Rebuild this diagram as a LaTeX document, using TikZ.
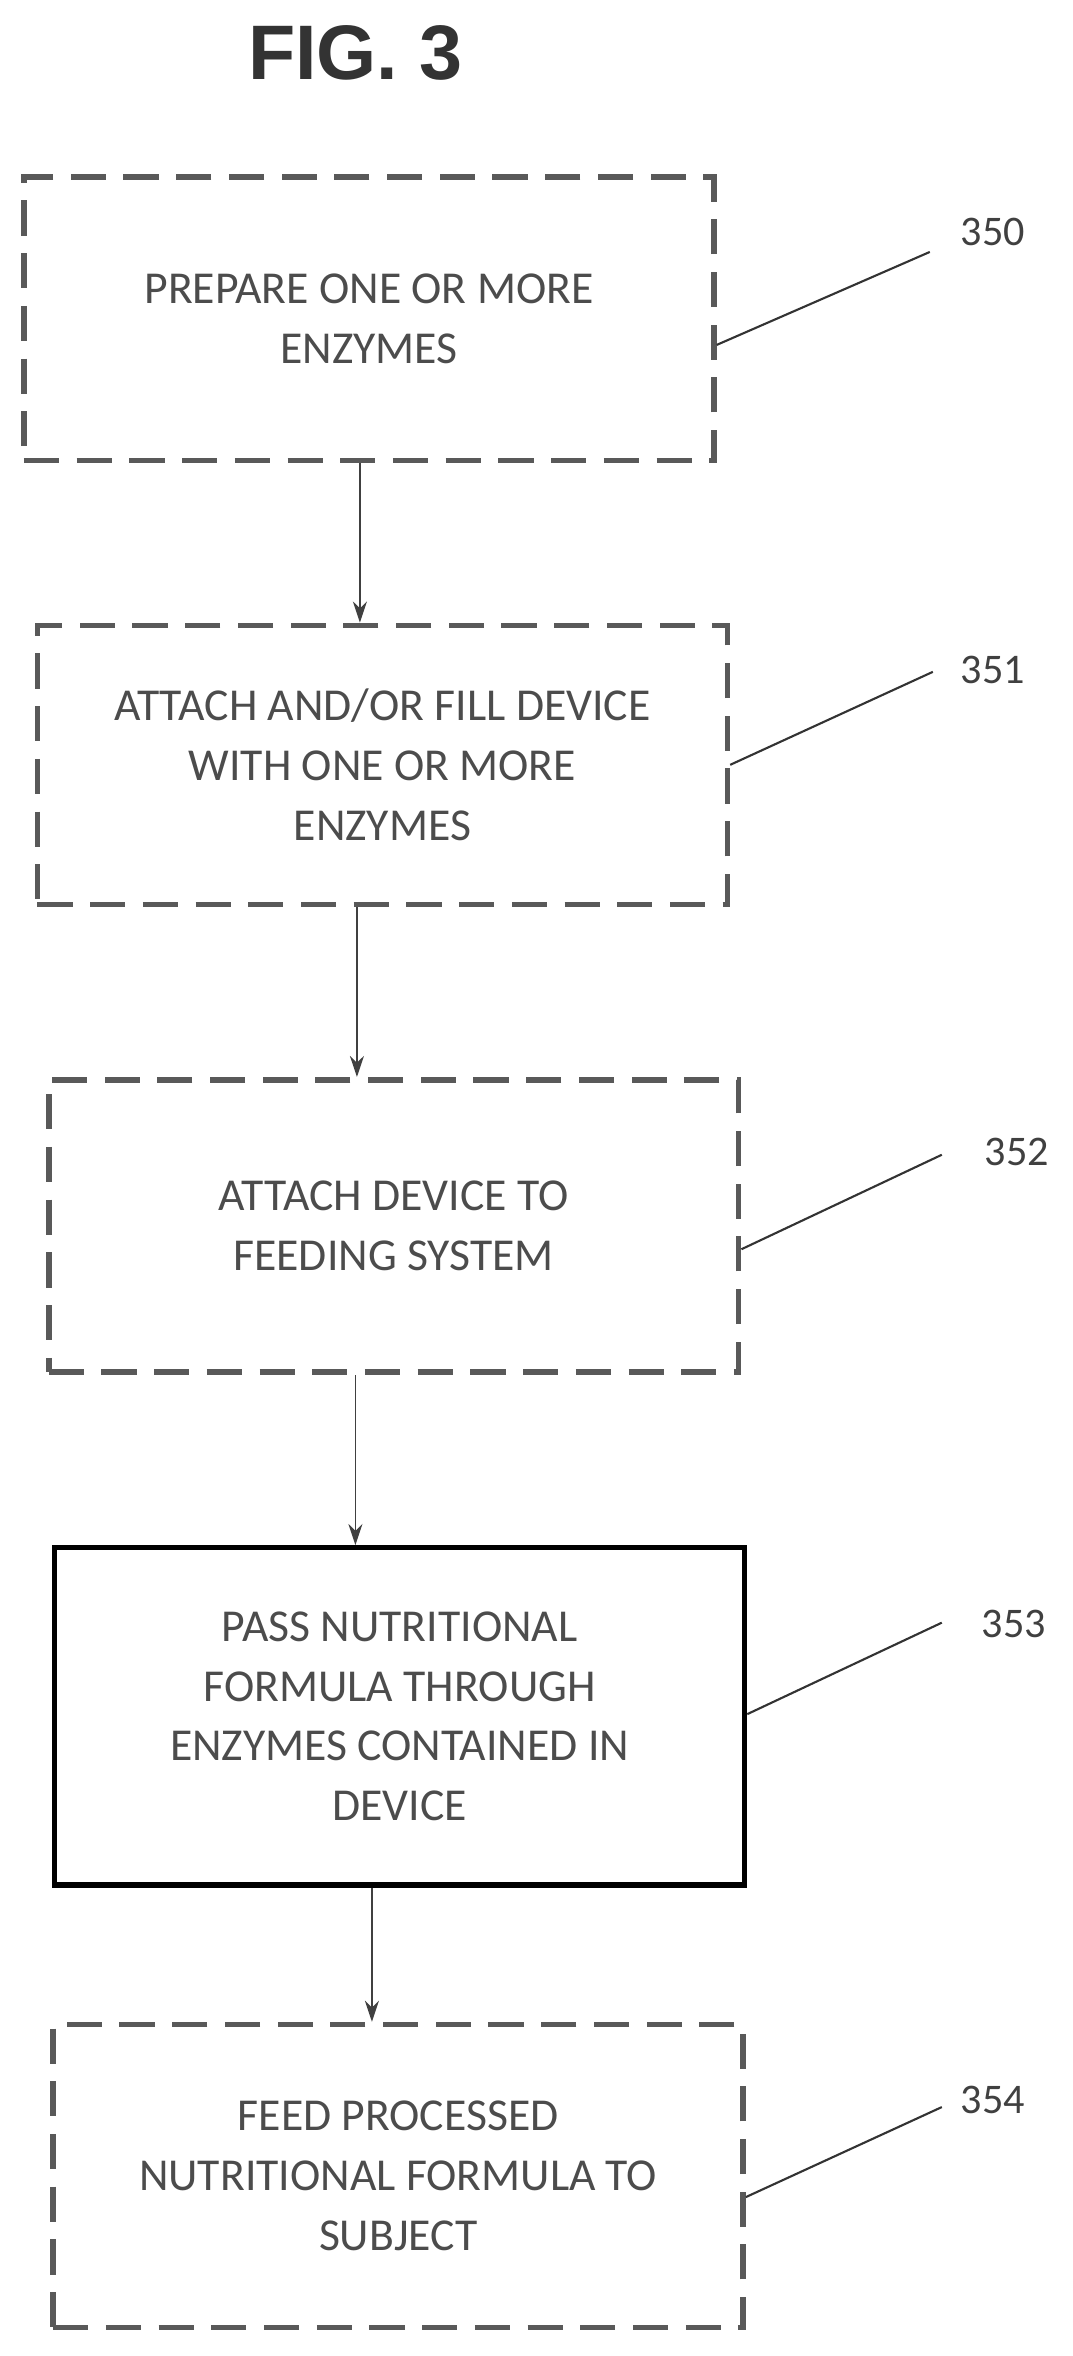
\documentclass[tikz,border=0pt]{standalone}
\usepackage{fontspec}
\setmainfont{Carlito}
\newfontfamily\titlefont{Liberation Sans}
\usetikzlibrary{arrows.meta}
\tikzset{
  stepbox/.style={draw=black!65,line width=3.2pt,dash pattern=on 20pt off 10pt,
    minimum width=13.8cm,align=center,text=black!70,font=\fontsize{26}{34}\selectfont,inner sep=0pt},
  solidbox/.style={stepbox,solid,draw=black,line width=3pt},
  flow/.style={draw=black!75,line width=1pt,-{Stealth[length=12pt,width=8pt]}},
  lead/.style={draw=black!80,line width=1.2pt},
  ref/.style={text=black!75,font=\fontsize{24}{28}\selectfont}
}
\begin{document}
\begin{tikzpicture}[x=0.03cm,y=-0.03cm]
  \useasboundingbox (0,0) rectangle (715,1571);
  % Title
  \node[font=\titlefont\bfseries\fontsize{44}{48}\selectfont,text=black!80] (title) at (237,35) {FIG. 3};
  % Steps
  \node[stepbox,minimum height=5.67cm] (s350) at (246,212.5) {PREPARE ONE OR MORE\\ENZYMES};
  \node[stepbox,minimum height=5.58cm] (s351) at (255,510) {ATTACH AND/OR FILL DEVICE\\WITH ONE OR MORE\\ENZYMES};
  \node[stepbox,minimum height=5.85cm] (s352) at (262.5,817.5) {ATTACH DEVICE TO\\FEEDING SYSTEM};
  \node[solidbox,minimum height=6.75cm] (s353) at (266.5,1144.5) {PASS NUTRITIONAL\\FORMULA THROUGH\\ENZYMES CONTAINED IN\\DEVICE};
  \node[stepbox,minimum height=6.06cm] (s354) at (265.5,1451) {FEED PROCESSED\\NUTRITIONAL FORMULA TO\\SUBJECT};
  % Arrows
  \draw[flow] (s350.south -| 240,0) -- (s351.north -| 240,0);
  \draw[flow] (s351.south -| 238,0) -- (s352.north -| 238,0);
  \draw[flow] (s352.south -| 237,0) -- (s353.north -| 237,0);
  \draw[flow] (s353.south -| 248,0) -- (s354.north -| 248,0);
  % Reference numerals
  \node[ref] (r350) at (662,155) {350};
  \node[ref] (r351) at (662,447) {351};
  \node[ref] (r352) at (678,768) {352};
  \node[ref] (r353) at (676,1083) {353};
  \node[ref] (r354) at (662,1400) {354};
  \coordinate (e350) at (620,168);
  \coordinate (e351) at (622,448);
  \coordinate (e352) at (628,770);
  \coordinate (e353) at (628,1082);
  \coordinate (e354) at (628,1405);
  \draw[lead] (s350.east |- 0,230) -- (e350);
  \draw[lead] (s351.east |- 0,510) -- (e351);
  \draw[lead] (s352.east |- 0,833) -- (e352);
  \draw[lead] (s353.east |- 0,1143) -- (e353);
  \draw[lead] (s354.east |- 0,1465) -- (e354);
\end{tikzpicture}
\end{document}
